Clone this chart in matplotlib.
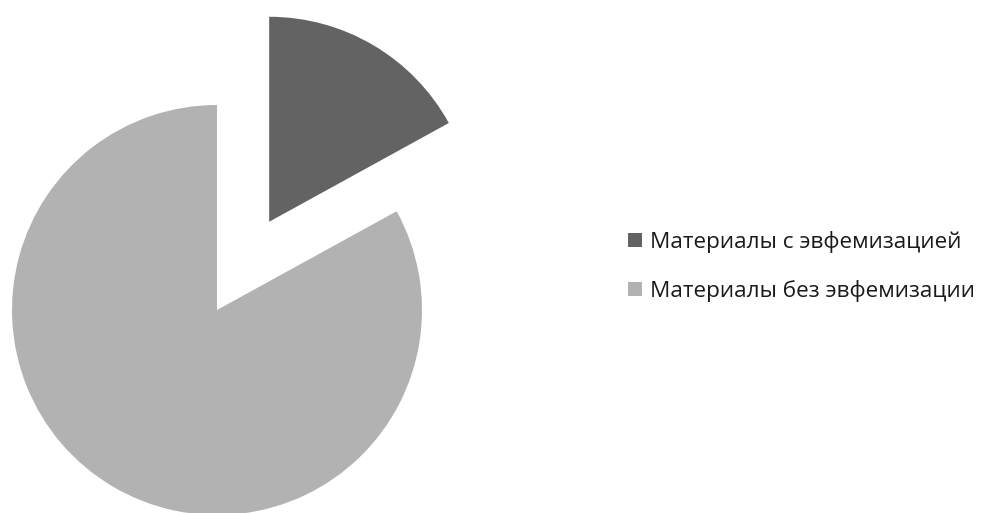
import matplotlib
matplotlib.use("Agg")
import matplotlib.pyplot as plt

# ================= DATA =================
labels = ["Материалы с эвфемизацией", "Материалы без эвфемизации"]
values = [17, 83]
colors = ["#636363", "#b2b2b2"]
explode = [0.5, 0]

plt.rcParams["font.family"] = ["Open Sans", "DejaVu Sans"]

# ================= PLOT =================
W, H = 991, 513
fig = plt.figure(figsize=(W / 100, H / 100), dpi=100)
ax = fig.add_axes([0, 0, 1, 1])

wedges, _ = ax.pie(values, colors=colors, explode=explode, startangle=90,
                   counterclock=False, radius=1.0,
                   wedgeprops=dict(linewidth=0))

# pie radius ~205 px, centre at (217, 310) from top-left
R = 205.0
cx, cy = 217.0, 310.0
ax.set_xlim(-cx / R, (W - cx) / R)
ax.set_ylim(-(H - cy) / R, cy / R)
ax.set_aspect("auto")
ax.axis("off")

leg = ax.legend(wedges, labels, loc="center left",
                bbox_to_anchor=(628 / W, 1 - 266.5 / H),
                bbox_transform=fig.transFigure,
                frameon=False, fontsize=16.2,
                handlelength=0.62, handleheight=0.62, handletextpad=0.36,
                labelspacing=1.2, borderaxespad=0, borderpad=0)
for t in leg.get_texts():
    t.set_color("#1a1a1a")

fig.savefig("out.png", dpi=100)
